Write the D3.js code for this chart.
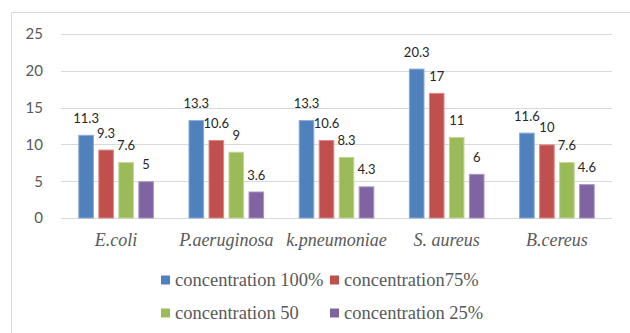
<!DOCTYPE html>
<html>
<head>
<meta charset="utf-8">
<script src="https://cdn.jsdelivr.net/npm/d3@7"></script>
<style>
  html, body { margin: 0; padding: 0; background: #fff; }
  svg { display: block; }
</style>
</head>
<body>
<svg id="chart" width="630" height="333"></svg>
<script>
// Inhibition zones per organism and extract concentration
const categories = ["E.coli", "P.aeruginosa", "k.pneumoniae", "S. aureus", "B.cereus"];
const seriesNames = ["concentration 100%", "concentration75%", "concentration 50", "concentration 25%"];
const conc100 = [11.3, 13.3, 13.3, 20.3, 11.6];
const conc75 = [9.3, 10.6, 10.6, 17, 10];
const conc50 = [7.6, 9, 8.3, 11, 7.6];
const conc25 = [5, 3.6, 4.3, 6, 4.6];
const yTicks = [0, 5, 10, 15, 20, 25];
const colors = ["#4F81BD", "#C0504D", "#9BBB59", "#8064A2"];
const edgeColors = ["#8AA8D6", "#DA8B89", "#C0D696", "#A995C2"];

const seriesValues = [conc100, conc75, conc50, conc25];
const SERIF = '"Liberation Serif", serif';
const SANS = 'Lato, "Open Sans", sans-serif';

const svg = d3.select("#chart");

// chart frame
svg.append("path")
  .attr("d", "M11.5,333 V12.5 H630")
  .attr("fill", "none")
  .attr("stroke", "#D9D9D9")
  .attr("stroke-width", 1);

const plot = { left: 61, right: 612, top: 34, bottom: 218 };

const x = d3.scaleBand().domain(categories).range([plot.left, plot.right]).padding(0);
const y = d3.scaleLinear().domain([0, 25]).range([plot.bottom, plot.top]);
const slot = d3.scaleBand().domain(d3.range(seriesNames.length))
  .range([-40, 40]).paddingInner(0.22).paddingOuter(0.11);

// gridlines
svg.append("g").selectAll("line").data(yTicks).join("line")
  .attr("x1", plot.left).attr("x2", plot.right)
  .attr("y1", d => Math.round(y(d)) + 0.5).attr("y2", d => Math.round(y(d)) + 0.5)
  .attr("stroke", "#D9D9D9").attr("stroke-width", 1);

// y axis labels
const yAxis = d3.axisLeft(y).tickValues(yTicks).tickSize(0).tickPadding(0);
const yg = svg.append("g").attr("transform", `translate(${43},0)`).call(yAxis);
yg.select(".domain").remove();
yg.selectAll("text")
  .style("font-family", SANS)
  .style("font-size", "15px")
  .attr("fill", "#595959");

// bars with value labels
const groups = svg.append("g").selectAll("g").data(seriesValues).join("g");
groups.each(function(vals, si) {
  const g = d3.select(this);
  const cx = c => x(c) + x.bandwidth() / 2 + slot(si);
  g.selectAll("rect").data(vals).join("rect")
    .attr("x", (d, i) => cx(categories[i]) + 0.5)
    .attr("y", d => y(d) + 0.5)
    .attr("width", slot.bandwidth() - 1)
    .attr("height", d => y(0) - y(d) - 0.5)
    .attr("fill", colors[si])
    .attr("stroke", edgeColors[si])
    .attr("stroke-width", 1);
  g.selectAll("text").data(vals).join("text")
    .attr("x", (d, i) => cx(categories[i]) + slot.bandwidth() / 2)
    .attr("y", d => y(d) - 12)
    .attr("text-anchor", "middle")
    .style("font-family", SANS)
    .style("font-size", "13px")
    .attr("fill", "#262626")
    .text(d => d);
});

// category axis labels
const xAxis = d3.axisBottom(x).tickSize(0).tickPadding(0);
const xg = svg.append("g").attr("transform", `translate(0,${246})`).call(xAxis);
xg.select(".domain").remove();
xg.selectAll("text")
  .attr("dy", 0)
  .style("font-family", SERIF)
  .style("font-style", "italic")
  .style("font-size", "18px")
  .attr("fill", "#595959");

// legend
const legendPos = [[161, 280], [330, 280], [161, 313], [330, 313]];
const legend = svg.append("g").selectAll("g").data(seriesNames).join("g")
  .attr("transform", (d, i) => `translate(${legendPos[i][0]},${legendPos[i][1]})`);
legend.append("rect")
  .attr("x", 0).attr("y", -4.5).attr("width", 9).attr("height", 9)
  .attr("fill", (d, i) => colors[i]);
legend.append("text")
  .attr("x", 14).attr("y", 6)
  .style("font-family", SERIF)
  .style("font-size", "18.5px")
  .attr("fill", "#595959")
  .text(d => d);
</script>
</body>
</html>
